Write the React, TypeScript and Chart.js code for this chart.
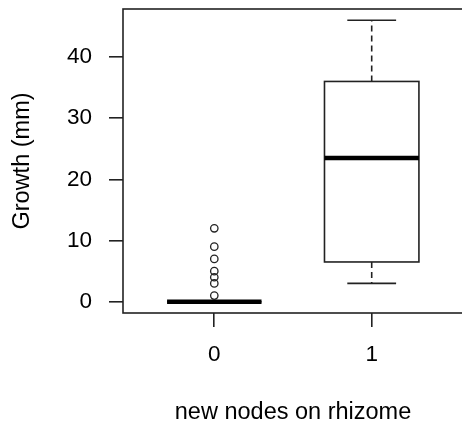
import React, { useEffect, useRef } from "react";
import { Chart, registerables } from "chart.js";

Chart.register(...registerables);

// ---- data ----
const categories = ["0", "1"];
const lowerWhisker = [0, 3];
const q1 = [0, 6.5];
const median = [0, 23.5];
const q3 = [0, 36];
const upperWhisker = [0, 46];
const outliers0 = [1, 3, 4, 5, 7, 9, 12];
const outliers1: number[] = [];
const outlierGroups = [outliers0, outliers1];
const yTicks = [0, 10, 20, 30, 40];

const xTitle = "new nodes on rhizome";
const yTitle = "Growth (mm)";

// ---- style ----
const FAMILY = "'Liberation Sans', Arial, sans-serif";
const TICK_FONT = { family: FAMILY, size: 22.5 };
const TITLE_FONT = { family: FAMILY, size: 23.5 };
const TEXT = "#000";
const LINE = "#222";
const LW = 1.6;
const BOX_HALF = 0.3;
const CAP_HALF = 0.155;

const allVals = [
  ...lowerWhisker,
  ...upperWhisker,
  ...outliers0,
  ...outliers1,
];
const dMin = Math.min(...allVals);
const dMax = Math.max(...allVals);
const yPad = (dMax - dMin) * 0.04;
const xPad = categories.length * 0.04;

const boxPlugin = {
  id: "boxes",
  beforeDatasetsDraw(chart: any) {
    const { ctx, chartArea, scales } = chart;
    const xs = scales.x;
    const ys = scales.y;
    ctx.save();
    ctx.strokeStyle = LINE;
    ctx.lineCap = "butt";
    categories.forEach((_, i) => {
      const xc = xs.getPixelForValue(i + 1);
      const hw = xs.getPixelForValue(i + 1 + BOX_HALF) - xc;
      const cw = xs.getPixelForValue(i + 1 + CAP_HALF) - xc;
      const yq1 = ys.getPixelForValue(q1[i]);
      const yq3 = ys.getPixelForValue(q3[i]);
      const ymed = ys.getPixelForValue(median[i]);
      const ylo = ys.getPixelForValue(lowerWhisker[i]);
      const yhi = ys.getPixelForValue(upperWhisker[i]);
      // whiskers (dashed)
      ctx.lineWidth = LW;
      ctx.setLineDash([6, 4]);
      ctx.beginPath();
      ctx.moveTo(xc, yq3);
      ctx.lineTo(xc, yhi);
      ctx.moveTo(xc, yq1);
      ctx.lineTo(xc, ylo);
      ctx.stroke();
      ctx.setLineDash([]);
      // caps
      ctx.beginPath();
      ctx.moveTo(xc - cw, yhi);
      ctx.lineTo(xc + cw, yhi);
      ctx.moveTo(xc - cw, ylo);
      ctx.lineTo(xc + cw, ylo);
      ctx.stroke();
      // box
      ctx.fillStyle = "#fff";
      ctx.fillRect(xc - hw, yq3, 2 * hw, yq1 - yq3);
      ctx.strokeRect(xc - hw, yq3, 2 * hw, yq1 - yq3);
      // median
      ctx.lineWidth = 4.6;
      ctx.strokeStyle = "#000";
      ctx.beginPath();
      ctx.moveTo(xc - hw, ymed);
      ctx.lineTo(xc + hw, ymed);
      ctx.stroke();
      ctx.strokeStyle = LINE;
    });
    // frame
    ctx.lineWidth = LW;
    ctx.strokeRect(
      chartArea.left,
      chartArea.top,
      chartArea.right - chartArea.left,
      chartArea.bottom - chartArea.top
    );
    ctx.restore();
  },
};

export default function App() {
  const ref = useRef<HTMLCanvasElement>(null);
  useEffect(() => {
    if (!ref.current) return;
    const points: { x: number; y: number }[] = [];
    outlierGroups.forEach((g, i) => g.forEach((v) => points.push({ x: i + 1, y: v })));
    const chart = new Chart(ref.current, {
      type: "scatter",
      data: {
        datasets: [
          {
            data: points,
            pointRadius: 3.7,
            pointBorderWidth: 1.3,
            borderColor: LINE,
            backgroundColor: "rgba(0,0,0,0)",
            pointStyle: "circle",
          },
        ],
      },
      options: {
        animation: false,
        responsive: false,
        events: [],
        layout: { padding: { top: 9, right: 7, left: 0, bottom: 0 } },
        plugins: {
          legend: { display: false },
          tooltip: { enabled: false },
        },
        scales: {
          x: {
            type: "linear",
            min: 1 - 0.5 - xPad,
            max: categories.length + 0.5 + xPad,
            afterBuildTicks: (a: any) => {
              a.ticks = categories.map((_, i) => ({ value: i + 1 }));
            },
            afterFit: (s: any) => {
              s.height = 114;
              s.paddingLeft = 0;
              s.paddingRight = 0;
            },
            ticks: {
              callback: (v: any) => categories[Math.round(v) - 1],
              font: TICK_FONT,
              color: TEXT,
              padding: 14.5,
              maxRotation: 0,
              autoSkip: false,
            },
            grid: {
              drawOnChartArea: false,
              drawTicks: true,
              tickLength: 14,
              color: LINE,
              lineWidth: LW,
            },
            border: { display: false },
            title: {
              display: true,
              text: xTitle,
              font: TITLE_FONT,
              color: TEXT,
              padding: { top: 0, bottom: 0 },
            },
          },
          y: {
            type: "linear",
            min: dMin - yPad,
            max: dMax + yPad,
            afterBuildTicks: (a: any) => {
              a.ticks = yTicks.map((v) => ({ value: v }));
            },
            afterFit: (s: any) => {
              s.width = 123;
              s.paddingTop = 0;
              s.paddingBottom = 0;
            },
            ticks: {
              font: TICK_FONT,
              color: TEXT,
              padding: 17,
            },
            grid: {
              drawOnChartArea: false,
              drawTicks: true,
              tickLength: 14,
              color: LINE,
              lineWidth: LW,
            },
            border: { display: false },
            title: {
              display: true,
              text: yTitle,
              font: TITLE_FONT,
              color: TEXT,
              padding: { top: 8, bottom: 0 },
            },
          },
        },
      },
      plugins: [boxPlugin],
    } as any);
    return () => chart.destroy();
  }, []);
  return (
    <div
      style={{
        position: "absolute",
        left: 0,
        top: 0,
        width: 462,
        height: 427,
        overflow: "hidden",
        background: "#fff",
      }}
    >
      <canvas ref={ref} width={470} height={427} style={{ display: "block" }} />
    </div>
  );
}
